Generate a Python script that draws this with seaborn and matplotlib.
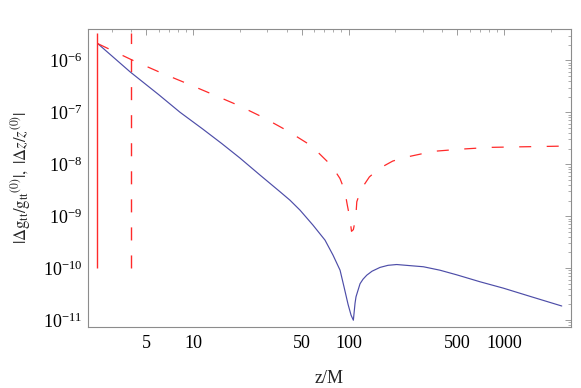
import numpy as np
import pandas as pd
import matplotlib
matplotlib.use("Agg")
import matplotlib.pyplot as plt
import matplotlib.ticker as mticker
import seaborn as sns

# --- values (log-log) ---
z_gtt = [2.44, 3.94, 6.0, 8.25, 11.5, 15.3, 20, 27, 36.3, 42, 48.8, 59.1, 70.6, 79.5,
         88.2, 93.6, 99.3, 103.8, 107.4, 110.1, 111.7, 115.1, 118.6, 123.9, 131, 141.6,
         159.4, 179.5, 204, 261, 303, 387, 497, 700, 991, 1500, 2350]
dgtt = [2.1e-6, 6.0e-7, 2.2e-7, 1.0e-7, 4.8e-8, 2.5e-8, 1.32e-8, 6.16e-9, 2.94e-9, 2.03e-9,
        1.3e-9, 6.7e-10, 3.45e-10, 1.77e-10,
        9.1e-11, 4.3e-11, 2.0e-11, 1.24e-11, 9.9e-12, 2.1e-11, 2.8e-11, 3.75e-11, 5.0e-11,
        6.1e-11, 7.3e-11, 8.7e-11,
        1.03e-10, 1.13e-10, 1.17e-10, 1.1e-10, 1.06e-10, 9.1e-11, 7.4e-11, 5.45e-11, 4.1e-11,
        2.8e-11, 1.86e-11]

z_dz = [2.44, 4.19, 6.22, 9.11, 13.39, 19.55, 28.2, 40.4, 57.6, 78, 88.1, 94.6, 98.2,
        101.8, 104.5, 107.4, 111.3, 113, 120.3, 136.2, 157.8, 192.4, 229.8, 351, 527,
        813, 1244, 1837, 2350]
dz = [2.1e-6, 9.7e-7, 5.77e-7, 3.6e-7, 2.21e-7, 1.36e-7, 7.98e-8, 4.41e-8, 2.27e-8,
      9.3e-9, 5.3e-9, 3.07e-9, 1.63e-9, 9.4e-10, 5.1e-10, 5.5e-10, 9.4e-10, 1.89e-9,
      3.27e-9, 5.7e-9, 8.3e-9, 1.15e-8, 1.35e-8, 1.77e-8, 1.95e-8, 2.11e-8, 2.16e-8,
      2.2e-8, 2.23e-8]

# vertical markers (solid and dashed)
z_solid_mark = 2.425
z_dashed_mark = 3.975
mark_range = [1.0e-10, 3.3e-6]

x_major = [5, 10, 50, 100, 500, 1000]
x_labels = ["5", "10", "50", "100", "500", "1000"]

sns.set_style("white")
plt.rcParams['font.family'] = ['Liberation Serif', 'DejaVu Serif']
plt.rcParams['mathtext.fontset'] = 'stix'

fig = plt.figure(figsize=(5.81, 3.88), dpi=100)
ax = fig.add_axes([0.151, 0.158, 0.832, 0.767])
ax.set_xscale('log')
ax.set_yscale('log')

blue = '#4d4da8'
red = '#ff2a2a'

sns.lineplot(x=z_gtt, y=dgtt, color=blue, lw=0.85, ax=ax, estimator=None, sort=False)
sns.lineplot(x=z_dz, y=dz, color=red, lw=0.9, ax=ax, estimator=None, sort=False,
             linestyle=(0, (9.6, 12.4)))
ax.vlines([z_solid_mark], mark_range[0], mark_range[1], color=red, lw=1.0)
ax.vlines([z_dashed_mark], mark_range[0], mark_range[1], color=red, lw=1.0,
          linestyles=[(0, (9.4, 10.8))])

ax.set_xlim(2.103, 2700)
ax.set_ylim(7.43e-12, 4.0e-6)

ax.xaxis.set_major_locator(mticker.FixedLocator(x_major))
ax.xaxis.set_major_formatter(mticker.FixedFormatter(x_labels))
ax.xaxis.set_minor_locator(mticker.LogLocator(base=10, subs=[2, 3, 4, 6, 7, 8, 9], numticks=50))
ax.xaxis.set_minor_formatter(mticker.NullFormatter())
ax.yaxis.set_major_locator(mticker.LogLocator(base=10, numticks=20))
ax.yaxis.set_minor_locator(mticker.LogLocator(base=10, subs=np.arange(2, 10), numticks=50))
ax.yaxis.set_minor_formatter(mticker.NullFormatter())

frame_col = '#8c8c8c'
for s in ax.spines.values():
    s.set_color(frame_col)
    s.set_linewidth(0.8)
ax.tick_params(which='both', direction='in', top=True, right=True, color=frame_col,
               labelsize=13, labelcolor='black')
ax.tick_params(which='major', length=4.5, width=0.6)
ax.tick_params(which='minor', length=2.2, width=0.5)
ax.tick_params(axis='x', which='major', pad=6)
ax.tick_params(axis='y', which='major', pad=4)

ax.set_xlabel('z/M', fontsize=13, labelpad=13)
ax.set_ylabel(r'$|\Delta \mathrm{g}_{\mathrm{tt}}/\mathrm{g}_{\mathrm{tt}}{}^{(0)}|,\ |\Delta z/z^{(0)}|$',
              fontsize=12, labelpad=7)

fig.savefig('out.png', dpi=100)
